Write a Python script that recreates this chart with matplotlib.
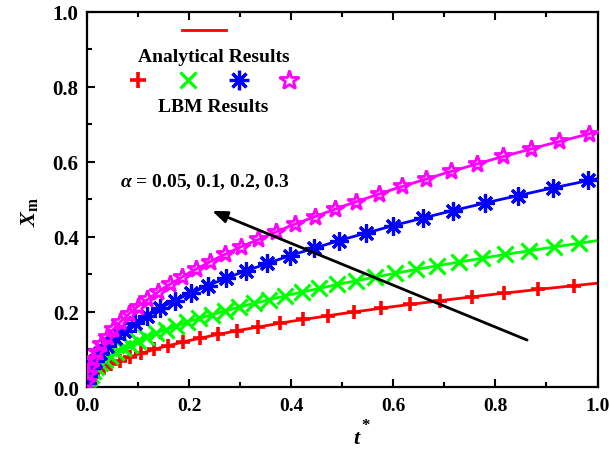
import matplotlib
matplotlib.use("Agg")
import matplotlib.pyplot as plt
from matplotlib.ticker import MultipleLocator, FormatStrFormatter

plt.rcParams["font.family"] = ["Liberation Serif", "DejaVu Serif"]
plt.rcParams["mathtext.fontset"] = "custom"
plt.rcParams["mathtext.rm"] = "Liberation Serif:bold"
plt.rcParams["mathtext.it"] = "Liberation Serif:italic:bold"
plt.rcParams["mathtext.bf"] = "Liberation Serif:bold"

alphas = [0.05, 0.1, 0.2, 0.3]
colors = ["#ff0000", "#00ff00", "#0000ff", "#ff00ff"]

# analytical interface position on a common time grid
t_line = [0, 0.001, 0.004, 0.01, 0.02, 0.035, 0.05, 0.075, 0.1, 0.15, 0.2,
          0.25, 0.3, 0.4, 0.5, 0.6, 0.7, 0.8, 0.9, 1.0]
x_line_005 = [0, 0.008744, 0.017488, 0.02765, 0.039103, 0.051728, 0.061827,
              0.075723, 0.087437, 0.107088, 0.123655, 0.13825, 0.151445,
              0.174874, 0.195515, 0.214176, 0.231337, 0.247309, 0.262311, 0.2765]
x_line_01 = [0, 0.012333, 0.024666, 0.039, 0.055154, 0.072962, 0.087207,
             0.106806, 0.123329, 0.151046, 0.174413, 0.195, 0.213612,
             0.246658, 0.275772, 0.302093, 0.326297, 0.348827, 0.369986, 0.39]
x_line_02 = [0, 0.017551, 0.035102, 0.0555, 0.078489, 0.103831, 0.124102,
             0.151993, 0.175507, 0.21495, 0.248204, 0.2775, 0.303986,
             0.351013, 0.392444, 0.429901, 0.464346, 0.496407, 0.526519, 0.555]
x_line_03 = [0, 0.021504, 0.043007, 0.068, 0.096166, 0.127216, 0.152053,
             0.186225, 0.215035, 0.263363, 0.304106, 0.34, 0.372452,
             0.43007, 0.480833, 0.526726, 0.568929, 0.60821, 0.645104, 0.68]

# LBM interface positions
t_lbm_005 = [0.00131, 0.00523, 0.01177, 0.02093, 0.0327, 0.04709, 0.0641,
             0.08371, 0.10595, 0.1308, 0.15827, 0.18836, 0.22105, 0.25637,
             0.2943, 0.33485, 0.37802, 0.4238, 0.4722, 0.5232, 0.5768,
             0.6331, 0.6919, 0.7534, 0.8175, 0.8842, 0.9535]
x_lbm_005 = [0.01, 0.02, 0.03, 0.04, 0.05, 0.06, 0.07, 0.08, 0.09, 0.10,
             0.11, 0.12, 0.13, 0.14, 0.15, 0.16, 0.17, 0.18, 0.19, 0.20,
             0.21, 0.22, 0.23, 0.24, 0.25, 0.26, 0.27]

t_lbm_01 = [0.00111, 0.00348, 0.00716, 0.01216, 0.01847, 0.02609, 0.03504,
            0.04529, 0.05686, 0.06975, 0.08395, 0.09947, 0.1163, 0.13444,
            0.1539, 0.17468, 0.19677, 0.22018, 0.2449, 0.27093, 0.29828,
            0.32695, 0.35693, 0.38823, 0.42084, 0.45476, 0.49, 0.52655,
            0.56443, 0.60361, 0.64411, 0.68593, 0.72906, 0.7735, 0.81926,
            0.86633, 0.91472, 0.96443]
x_lbm_01 = [0.013, 0.023, 0.033, 0.043, 0.053, 0.063, 0.073, 0.083, 0.093,
            0.103, 0.113, 0.123, 0.133, 0.143, 0.153, 0.163, 0.173, 0.183,
            0.193, 0.203, 0.213, 0.223, 0.233, 0.243, 0.253, 0.263, 0.273,
            0.283, 0.293, 0.303, 0.313, 0.323, 0.333, 0.343, 0.353, 0.363,
            0.373, 0.383]

t_lbm_02 = [0.000325, 0.002922, 0.008116, 0.015908, 0.026297, 0.039282,
            0.054866, 0.073046, 0.093823, 0.117198, 0.14317, 0.171739,
            0.202905, 0.236669, 0.27303, 0.311988, 0.353543, 0.397695,
            0.444444, 0.493791, 0.545735, 0.600276, 0.657414, 0.71715,
            0.779482, 0.844412, 0.911939, 0.982063]
x_lbm_02 = [0.01, 0.03, 0.05, 0.07, 0.09, 0.11, 0.13, 0.15, 0.17, 0.19,
            0.21, 0.23, 0.25, 0.27, 0.29, 0.31, 0.33, 0.35, 0.37, 0.39,
            0.41, 0.43, 0.45, 0.47, 0.49, 0.51, 0.53, 0.55]

t_lbm_03 = [0.000424, 0.0025, 0.006306, 0.011843, 0.019109, 0.028106,
            0.038832, 0.051289, 0.065476, 0.081393, 0.09904, 0.118417,
            0.139524, 0.162362, 0.186929, 0.213227, 0.241254, 0.271012,
            0.3025, 0.335718, 0.370666, 0.407344, 0.445753, 0.485891,
            0.52776, 0.571358, 0.616687, 0.663746, 0.712535, 0.763053,
            0.815303, 0.869282, 0.924992, 0.98243]
x_lbm_03 = [0.014, 0.034, 0.054, 0.074, 0.094, 0.114, 0.134, 0.154, 0.174,
            0.194, 0.214, 0.234, 0.254, 0.274, 0.294, 0.314, 0.334, 0.354,
            0.374, 0.394, 0.414, 0.434, 0.454, 0.474, 0.494, 0.514, 0.534,
            0.554, 0.574, 0.594, 0.614, 0.634, 0.654, 0.674]

x_lines = [x_line_005, x_line_01, x_line_02, x_line_03]
t_lbm = [t_lbm_005, t_lbm_01, t_lbm_02, t_lbm_03]
x_lbm = [x_lbm_005, x_lbm_01, x_lbm_02, x_lbm_03]

marker_styles = [
    dict(marker="+", markersize=10, markeredgewidth=2.6, markerfacecolor="none"),
    dict(marker="x", markersize=12, markeredgewidth=2.3, markerfacecolor="none"),
    dict(marker=(8, 2, 0), markersize=13, markeredgewidth=2.3, markerfacecolor="none"),
    dict(marker="*", markersize=13, markeredgewidth=2.0, markerfacecolor="none"),
]
legend_sizes = [11, 12, 14, 15]

fig = plt.figure(figsize=(6.1, 4.6), dpi=100)
ax = fig.add_axes([0.1426, 0.1565, 0.837, 0.8163])

for xl, tl, xm, c, ms in zip(x_lines, t_lbm, x_lbm, colors, marker_styles):
    ax.plot(t_line, xl, color=c, lw=2.0, zorder=2)
    ax.plot(tl, xm, linestyle="none", color=c, markeredgecolor=c, zorder=3, **ms)

ax.set_xlim(0, 1.0)
ax.set_ylim(0, 1.0)
ax.xaxis.set_major_locator(MultipleLocator(0.2))
ax.xaxis.set_minor_locator(MultipleLocator(0.1))
ax.yaxis.set_major_locator(MultipleLocator(0.2))
ax.yaxis.set_minor_locator(MultipleLocator(0.1))
ax.tick_params(which="both", direction="in", top=True, right=False, width=1.5)
ax.tick_params(which="major", length=6)
ax.tick_params(which="minor", length=3.5)
ax.tick_params(axis="x", labelsize=14, pad=7)
ax.tick_params(axis="y", labelsize=15, pad=6)
ax.xaxis.set_major_formatter(FormatStrFormatter("%.1f"))
ax.yaxis.set_major_formatter(FormatStrFormatter("%.1f"))
for lab in ax.get_xticklabels() + ax.get_yticklabels():
    lab.set_fontweight("bold")
for sp in ax.spines.values():
    sp.set_linewidth(1.6)

# axis titles
fig.text(357 / 610, 1 - 440 / 460, r"$t$", fontsize=16, ha="center", va="center")
fig.text(366 / 610, 1 - 426 / 460, "*", fontsize=12, fontweight="bold",
         ha="center", va="center")
fig.text(30 / 610, 1 - 212 / 460, r"$X_{\rm m}$", fontsize=16, rotation=90,
         ha="center", va="center")

# legend drawn by hand
ax.plot([0.186, 0.272], [0.951, 0.951], color=colors[0], lw=2.0, clip_on=False)
ax.text(0.248, 0.881, "Analytical Results", ha="center", va="center",
        fontsize=14, fontweight="bold")
for xpos, c, ms, sz in zip([0.100, 0.198, 0.298, 0.396], colors,
                           marker_styles, legend_sizes):
    style = dict(ms, markersize=sz)
    ax.plot([xpos], [0.818], linestyle="none", color=c, markeredgecolor=c, **style)
ax.text(0.248, 0.748, "LBM Results", ha="center", va="center",
        fontsize=14, fontweight="bold")

ax.text(0.064, 0.549, r"$\alpha$" + " = 0.05, 0.1, 0.2, 0.3", ha="left",
        va="center", fontsize=14, fontweight="bold")

ax.annotate("", xy=(0.245, 0.469), xytext=(0.862, 0.125),
            arrowprops=dict(arrowstyle="-|>,head_length=0.9,head_width=0.35",
                            color="black", lw=2.0, shrinkA=0, shrinkB=0))

fig.savefig("out.png", dpi=100)
